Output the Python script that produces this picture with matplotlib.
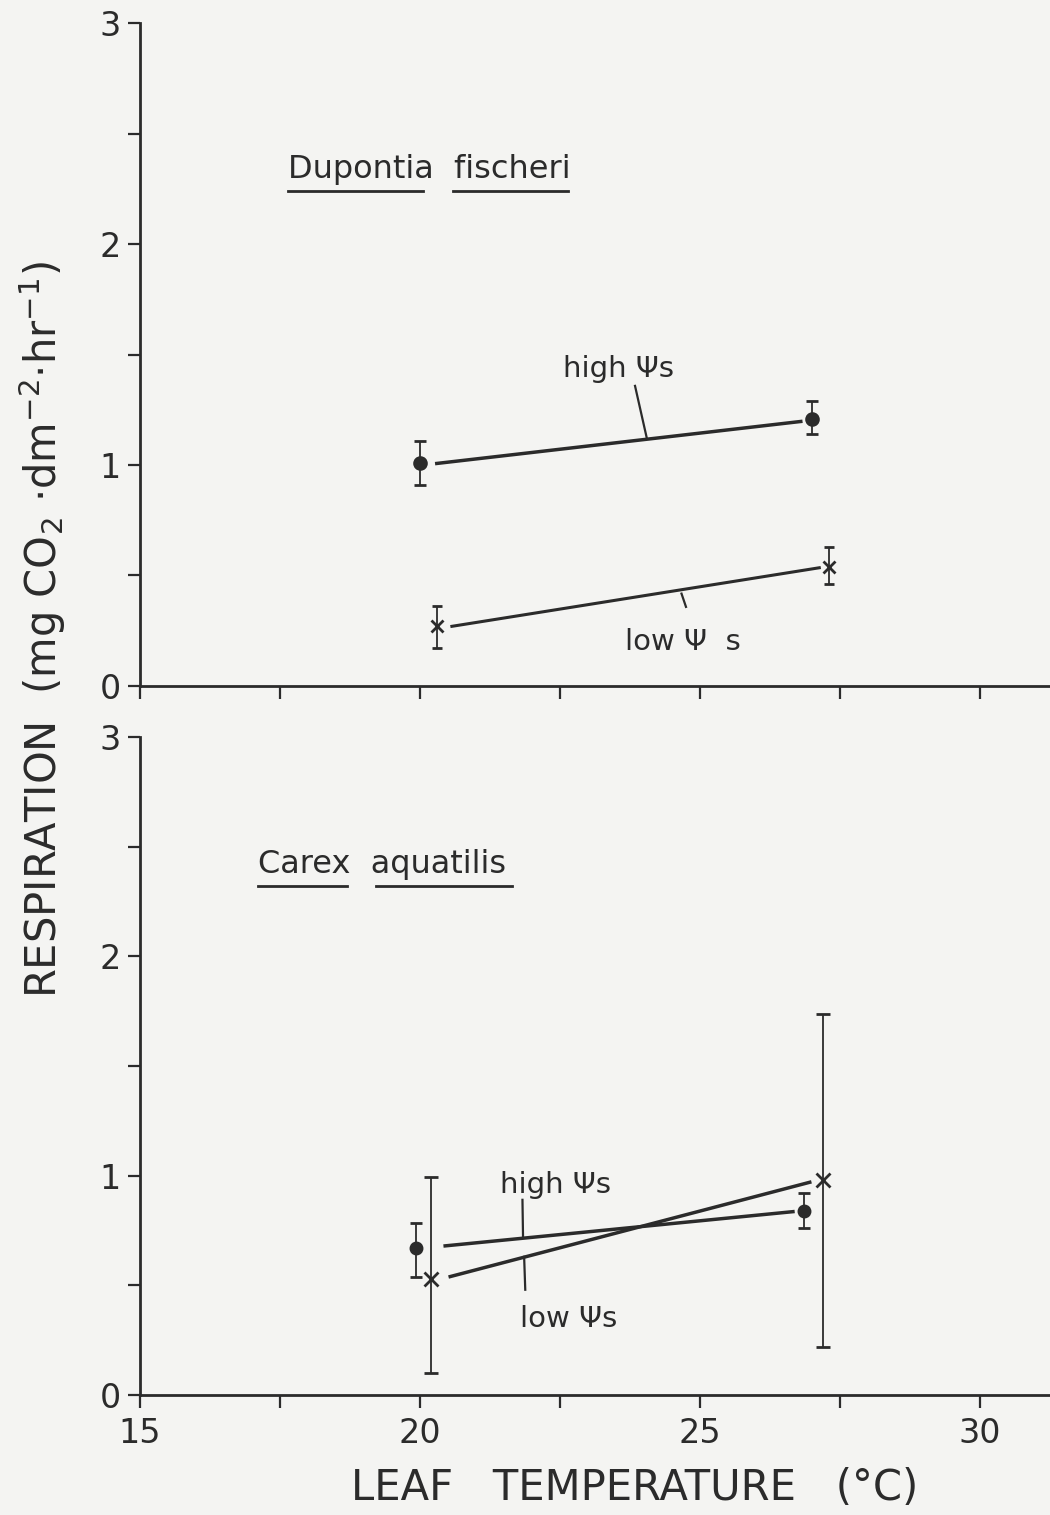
import matplotlib

matplotlib.use("Agg")
import matplotlib.pyplot as plt
import numpy as np

INK = "#2b2b2b"
PAPER = "#f4f4f2"

plt.rcParams["font.family"] = ["DejaVu Sans"]
plt.rcParams["mathtext.default"] = "regular"

# Dupontia fischeri (top panel)
dup_high_t = [20.0, 27.0]
dup_high_r = [1.01, 1.21]
dup_high_err = [[0.10, 0.07], [0.10, 0.08]]
dup_low_t = [20.3, 27.3]
dup_low_r = [0.27, 0.54]
dup_low_err = [[0.10, 0.08], [0.09, 0.09]]
dup_high_fit_t = [20.3, 26.8]
dup_high_fit_r = [1.007, 1.197]
dup_low_fit_t = [20.57, 27.13]
dup_low_fit_r = [0.27, 0.535]

# Carex aquatilis (bottom panel)
car_high_t = [19.93, 26.86]
car_high_r = [0.67, 0.84]
car_high_err = [[0.13, 0.08], [0.115, 0.08]]
car_low_t = [20.19, 27.19]
car_low_r = [0.53, 0.98]
car_low_err = [[0.43, 0.76], [0.465, 0.757]]
car_high_fit_t = [20.45, 26.66]
car_high_fit_r = [0.68, 0.836]
car_low_fit_t = [20.54, 26.96]
car_low_fit_r = [0.54, 0.97]

x_ticks = [15, 17.5, 20, 22.5, 25, 27.5, 30]
x_tick_labels = ["15", "", "20", "", "25", "", "30"]
y_ticks = [0, 0.5, 1, 1.5, 2, 2.5, 3]
y_tick_labels = ["0", "", "1", "", "2", "", "3"]


def style_axes(ax, show_xlabels):
    ax.set_facecolor(PAPER)
    ax.set_xlim(15, 31.25)
    ax.set_ylim(0, 3)
    for side in ("top", "right"):
        ax.spines[side].set_visible(False)
    for side in ("left", "bottom"):
        ax.spines[side].set_linewidth(2.0)
        ax.spines[side].set_color(INK)
    ax.set_xticks(x_ticks)
    ax.set_xticklabels(x_tick_labels if show_xlabels else [""] * len(x_ticks))
    ax.set_yticks(y_ticks)
    ax.set_yticklabels(y_tick_labels)
    ax.tick_params(axis="both", direction="out", length=9, width=1.6, color=INK,
                   labelcolor=INK, labelsize=24)
    ax.tick_params(axis="y", pad=5)
    ax.tick_params(axis="x", pad=7)


def draw_series(ax, t, r, err, marker, ms, capsize):
    ax.errorbar(t, r, yerr=err, fmt=marker, color=INK, ms=ms, mew=2.0,
                elinewidth=1.3, capsize=capsize, capthick=1.6, zorder=3)


def underline(ax, x0, x1, y):
    ax.plot([x0, x1], [y, y], color=INK, lw=2.0)


fig = plt.figure(figsize=(10.5, 15.15), dpi=100, facecolor=PAPER)
ax_top = fig.add_axes([0.1333, 0.5472, 0.8667, 0.4376])
ax_bot = fig.add_axes([0.1333, 0.0792, 0.8667, 0.4343])

# top panel
style_axes(ax_top, False)
ax_top.plot(dup_high_fit_t, dup_high_fit_r, color=INK, lw=2.5)
ax_top.plot(dup_low_fit_t, dup_low_fit_r, color=INK, lw=2.2)
draw_series(ax_top, dup_high_t, dup_high_r, dup_high_err, "o", 8.5, 4.5)
draw_series(ax_top, dup_low_t, dup_low_r, dup_low_err, "x", 8, 3.6)

ax_top.text(17.64, 2.30, "Dupontia  fischeri", fontsize=23, color=INK,
            ha="left", va="baseline")
underline(ax_top, 17.64, 20.05, 2.24)
underline(ax_top, 20.59, 22.64, 2.24)

ax_top.text(22.55, 1.40, "high \u03a8s", fontsize=21, color=INK, ha="left", va="baseline")
ax_top.plot([23.84, 24.05], [1.358, 1.122], color=INK, lw=1.6)
ax_top.text(24.7, 0.165, "low \u03a8  s", fontsize=21, color=INK, ha="center", va="baseline")
ax_top.plot([24.67, 24.75], [0.418, 0.358], color=INK, lw=1.6)

# bottom panel
style_axes(ax_bot, True)
ax_bot.plot(car_high_fit_t, car_high_fit_r, color=INK, lw=2.5)
ax_bot.plot(car_low_fit_t, car_low_fit_r, color=INK, lw=2.5)
draw_series(ax_bot, car_high_t, car_high_r, car_high_err, "o", 8, 4.5)
draw_series(ax_bot, car_low_t, car_low_r, car_low_err, "x", 10, 5.0)

ax_bot.text(17.1, 2.38, "Carex  aquatilis", fontsize=23, color=INK,
            ha="left", va="baseline")
underline(ax_bot, 17.1, 18.7, 2.32)
underline(ax_bot, 19.21, 21.64, 2.32)

ax_bot.text(21.43, 0.92, "high \u03a8s", fontsize=21, color=INK, ha="left", va="baseline")
ax_bot.plot([21.83, 21.84], [0.89, 0.725], color=INK, lw=1.6)
ax_bot.text(21.79, 0.31, "low \u03a8s", fontsize=21, color=INK, ha="left", va="baseline")
ax_bot.plot([21.86, 21.88], [0.63, 0.48], color=INK, lw=1.6)

fig.text(42 / 1050, 1 - 630 / 1515,
         "RESPIRATION  (mg CO$_2$ $\\cdot$dm$^{-2}$$\\cdot$hr$^{-1}$)",
         rotation=90, ha="center", va="center", fontsize=30, color=INK)
fig.text(635 / 1050, 1 - 1488 / 1515, "LEAF   TEMPERATURE   (\u00b0C)",
         ha="center", va="center", fontsize=30, color=INK)

fig.savefig("out.png", dpi=100, facecolor=PAPER)
